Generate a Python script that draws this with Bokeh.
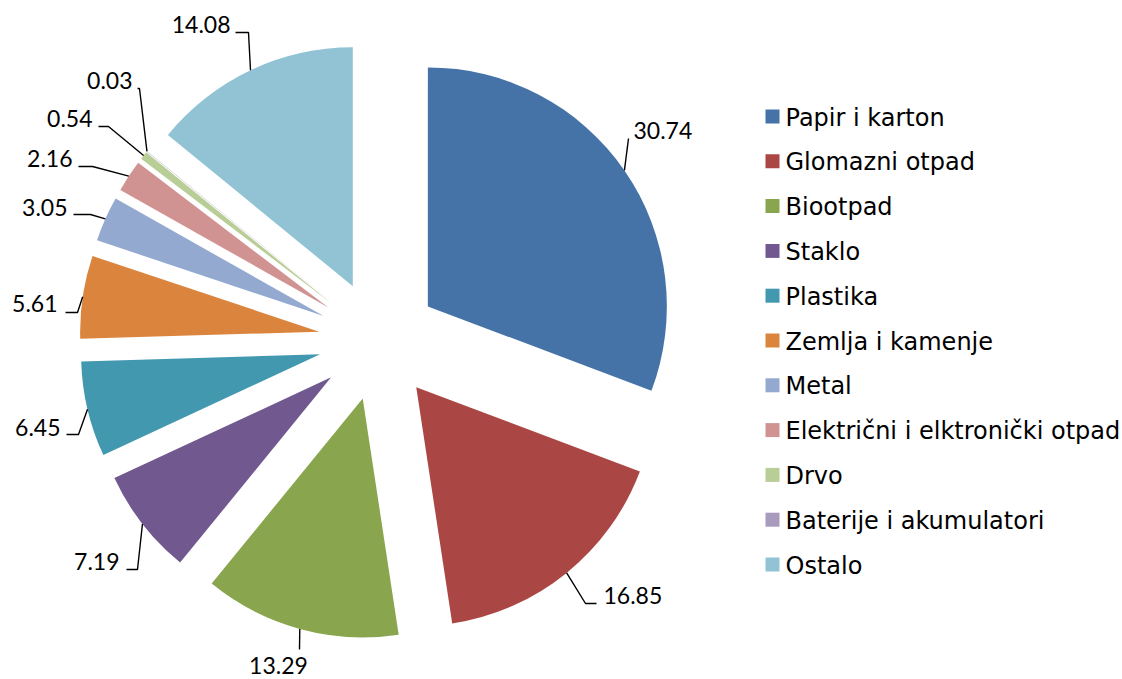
import math
from bokeh.plotting import figure
from bokeh.models import Range1d, ColumnDataSource
from bokeh.core.properties import value
from bokeh.embed import file_html
from bokeh.resources import INLINE

# ---------------- data ----------------
categories = ["Papir i karton", "Glomazni otpad", "Biootpad", "Staklo", "Plastika",
              "Zemlja i kamenje", "Metal", "Električni i elktronički otpad", "Drvo",
              "Baterije i akumulatori", "Ostalo"]
values = [30.74, 16.85, 13.29, 7.19, 6.45, 5.61, 3.05, 2.16, 0.54, 0.03, 14.08]
colors = ["#4572A7", "#AA4643", "#89A54E", "#71588F", "#4198AF", "#DB843D",
          "#93A9CF", "#D19392", "#B9CD96", "#A99BBD", "#92C3D4"]

# ---------------- layout (page pixels) ----------------
PAGE_W, PAGE_H = 1122, 679
CX, CY = 378, 340          # pie centre
R = 239                    # radius
EXPLODE = 60               # explosion distance
TEXT_DY = 8                # baseline correction for text rendering
# label layout per slice: elbow point, horizontal end x, text x, text baseline y, align
label_elbow = [(628, 138), (585, 603), (299, 649), (137, 569), (78, 434), (77, 312),
               (90, 214), (92, 166), (108, 126), (139, 88), (248, 32)]
label_end_x = [628, 596, 299, 126, 66, 65, 73, 78, 98, 137, 235]
label_tx = [633, 603, 278, 119, 60, 57, 67, 72, 92, 132, 230]
label_ty = [138, 603, 673, 569, 435, 311, 215, 166, 126, 88, 32]
label_align = ["left", "left", "center", "right", "right", "right", "right",
               "right", "right", "right", "right"]
LEG_X, LEG_Y0, LEG_DY = 772, 116, 44.8


def Y(py):
    return PAGE_H - py


total = sum(values)
xs, ys, starts, ends = [], [], [], []
line_xs, line_ys = [], []
cum = 0.0
for i, v in enumerate(values):
    t1 = cum / total * 2 * math.pi
    t2 = (cum + v) / total * 2 * math.pi
    tm = (t1 + t2) / 2
    cum += v
    vx = CX + EXPLODE * math.sin(tm)
    vy = CY - EXPLODE * math.cos(tm)
    xs.append(vx)
    ys.append(Y(vy))
    starts.append(math.pi / 2 - t2)
    ends.append(math.pi / 2 - t1)
    ax = vx + R * math.sin(tm)
    ay = vy - R * math.cos(tm)
    ex, ey = label_elbow[i]
    line_xs.append([ax, ex, label_end_x[i]])
    line_ys.append([Y(ay), Y(ey), Y(ey)])

p = figure(width=PAGE_W, height=PAGE_H, x_range=Range1d(0, PAGE_W), y_range=Range1d(0, PAGE_H),
           toolbar_location=None, output_backend="svg", min_border=0,
           x_axis_location=None, y_axis_location=None)
p.grid.visible = False
p.outline_line_color = None
p.background_fill_color = "white"
p.border_fill_color = "white"

src = ColumnDataSource(dict(x=xs, y=ys, start=starts, end=ends, color=colors))
p.wedge(x="x", y="y", radius=R, start_angle="start", end_angle="end",
        direction="anticlock", fill_color="color", line_color=None, source=src)

p.multi_line(line_xs, line_ys, line_color="black", line_width=1.4)

for al in ["left", "center", "right"]:
    idx = [i for i in range(len(values)) if label_align[i] == al]
    p.text(x=[label_tx[i] for i in idx], y=[Y(label_ty[i] - TEXT_DY) for i in idx],
           text=[f"{values[i]:.2f}" for i in idx], text_align=al,
           text_baseline="alphabetic", text_font=value("Lato"),
           text_font_size="23px", text_color="black")

# legend
leg_y = [Y(LEG_Y0 + LEG_DY * i) for i in range(len(categories))]
p.scatter(x=[LEG_X] * len(categories), y=leg_y, marker="square", size=14,
          fill_color=colors, line_color=None)
p.text(x=[LEG_X + 13] * len(categories), y=[yy - 9 + TEXT_DY for yy in leg_y], text=categories,
       text_align="left", text_baseline="alphabetic", text_font=value("DejaVu Sans"),
       text_font_size="24px", text_color="black")

open("out.html", "w").write(file_html(p, INLINE))
